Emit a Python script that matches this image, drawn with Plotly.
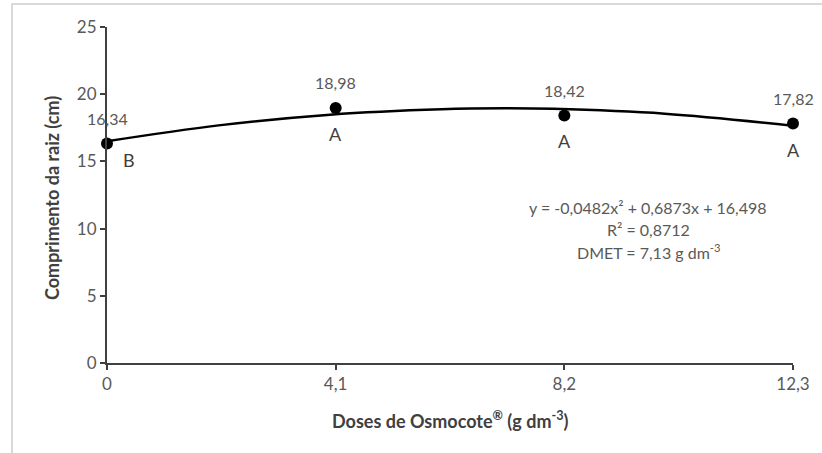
import plotly.graph_objects as go

doses = [0, 4.1, 8.2, 12.3]
dose_labels = ["0", "4,1", "8,2", "12,3"]
comprimento = [16.34, 18.98, 18.42, 17.82]
value_labels = ["16,34", "18,98", "18,42", "17,82"]
letters = ["B", "A", "A", "A"]

# trend line
curve_x = [0, 2, 4, 6, 7.13, 8, 10, 12.3]
curve_y = [16.50, 17.68, 18.48, 18.88, 18.95, 18.91, 18.55, 17.66]

y_ticks = [0, 5, 10, 15, 20, 25]

W, H = 822, 453
L, R, T, B = 107, 29, 27, 90
pw, ph = W - L - R, H - T - B

font_family = "Lato, 'Open Sans', sans-serif"
dark = "#404040"
grey = "#595959"

fig = go.Figure()
fig.add_trace(go.Scatter(x=curve_x, y=curve_y, mode="lines", line=dict(color="black", width=2.5, shape="spline"),
                         hoverinfo="skip", cliponaxis=False, showlegend=False))
fig.add_trace(go.Scatter(x=doses, y=comprimento, mode="markers", marker=dict(color="black", size=12),
                         cliponaxis=False, showlegend=False))

ann = []
for x, y, v, l in zip(doses, comprimento, value_labels, letters):
    ann.append(dict(x=x, y=y, text=v, showarrow=False, yshift=25, font=dict(size=16, color=grey, family=font_family)))
    xs = 22 if x == 0 else 0
    ys = -17 if x == 0 else -26
    ann.append(dict(x=x, y=y, text=l, showarrow=False, xshift=xs, yshift=ys, font=dict(size=18, color=dark, family=font_family)))

eq_lines = ["y = -0,0482x² + 0,6873x + 16,498", "R² = 0,8712", "DMET = 7,13 g dm<sup>-3</sup>"]
for i, t in enumerate(eq_lines):
    ann.append(dict(xref="paper", yref="paper", x=(648 - L) / pw, y=1 - ((207 + 22 * i) - T) / ph, text=t,
                    showarrow=False, xanchor="center", yanchor="middle",
                    font=dict(size=16, color=grey, family=font_family)))

ann.append(dict(xref="paper", yref="paper", x=(450 - L) / pw, y=1 - (420 - T) / ph,
                text="<b>Doses de Osmocote<sup>®</sup> (g dm<sup>-3</sup>)</b>", showarrow=False,
                xanchor="center", yanchor="middle", font=dict(size=18, color=dark, family=font_family)))
ann.append(dict(xref="paper", yref="paper", x=(52 - L) / pw, y=1 - (198 - T) / ph,
                text="<b>Comprimento da raiz (cm)</b>", showarrow=False, textangle=-90,
                xanchor="center", yanchor="middle", font=dict(size=18, color=dark, family=font_family)))

fig.update_layout(
    width=W, height=H, margin=dict(l=L, r=R, t=T, b=B),
    paper_bgcolor="white", plot_bgcolor="white",
    annotations=ann,
    shapes=[dict(type="rect", xref="paper", yref="paper",
                 x0=(12 - L) / pw, x1=(840 - L) / pw, y0=1 - (470 - T) / ph, y1=1 - (4 - T) / ph,
                 line=dict(color="#d9d9d9", width=2), layer="below")],
    xaxis=dict(range=[0, 12.3], tickvals=doses, ticktext=dose_labels, showgrid=False, zeroline=False,
               showline=True, linecolor="#404040", linewidth=2, ticks="outside", ticklen=5, tickcolor="#404040",
               tickwidth=1.5,
               tickfont=dict(size=17, color=grey, family=font_family)),
    yaxis=dict(range=[0, 25], tickvals=y_ticks, showgrid=False, zeroline=False, ticksuffix="\u00a0\u00a0",
               showline=True, linecolor="#404040", linewidth=2, ticks="outside", ticklen=5, tickcolor="#404040",
               tickwidth=1.5,
               tickfont=dict(size=17, color=grey, family=font_family)),
)

fig.write_html("out.html")
